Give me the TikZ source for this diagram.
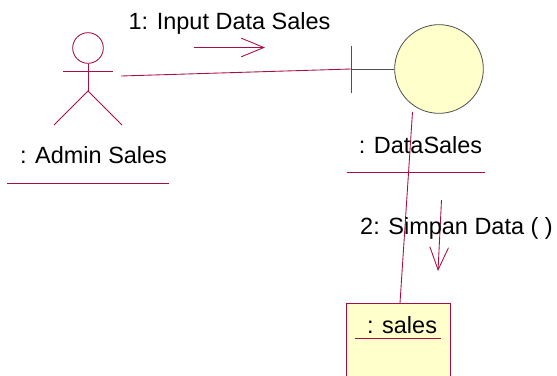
\documentclass[tikz,border=0pt]{standalone}
\usepackage{fontspec}
\setmainfont{Liberation Sans}
\usepackage{xcolor}
\usetikzlibrary{arrows.meta,shapes}
\definecolor{umlline}{HTML}{A50F43}
\definecolor{umlfill}{HTML}{FFFFCB}
\definecolor{umlgrey}{HTML}{505050}
\tikzset{
    umlline/.style={draw=umlline, line width=0.65pt},
    umllabel/.style={font=\fontsize{17.6}{20}\selectfont, text=black, inner sep=0pt, anchor=base},
    umlmsg/.style={umlline, -{Straight Barb[length=17pt, width=14pt, line width=0.65pt]}},
}

\begin{document}
\begin{tikzpicture}[x=0.75pt, y=-0.75pt]
        \useasboundingbox (0,0) rectangle (557,375);
        \clip (0,0) rectangle (557,375);
        % actor
        \node[circle, umlline, minimum size=23pt, inner sep=0pt] (head) at (88,48) {};
        \coordinate (armL) at (63,71);
        \coordinate (armR) at (113,71);
        \coordinate (hip) at (88,91);
        \coordinate (footL) at (54,125);
        \coordinate (footR) at (122,125);
        \draw[umlline] (armL) -- (armR);
        \draw[umlline] (head.south) -- (hip);
        \draw[umlline] (footL) -- (hip) -- (footR);
        \node[umllabel] (admin) at (93.5,163.5) {: Admin Sales};
        \coordinate (adminL) at (7,183.5);
        \coordinate (adminR) at (169,183.5);
        \draw[umlline] (adminL) -- (adminR);
        % boundary
        \node[circle, draw=umlgrey, fill=umlfill, line width=0.6pt, minimum size=66.5pt, inner sep=0pt] (data) at (439,69) {};
        \coordinate (tick) at (351,69);
        \coordinate (tickT) at (351,46);
        \coordinate (tickB) at (351,93);
        \draw[umlgrey, line width=0.6pt] (tickT) -- (tickB);
        \draw[umlgrey, line width=0.6pt] (tick) -- (data.west);
        \node[umllabel] (datalabel) at (420.5,153) {: DataSales};
        \coordinate (dataL) at (347,172);
        \coordinate (dataR) at (485,172);
        \draw[umlline] (dataL) -- (dataR);
        % entity
        \node[rectangle, umlline, fill=umlfill, minimum width=78pt, minimum height=90pt, inner sep=0pt, anchor=north west] (sales) at (345.5,303) {};
        \node[umllabel] (saleslabel) at (402,333) {: sales};
        \coordinate (salesL) at (355,338);
        \coordinate (salesR) at (441,338);
        \draw[umlline] (salesL) -- (salesR);
        % links
        \coordinate (actorEnd) at (121,76);
        \coordinate (dataEnd) at (412.5,112);
        \coordinate (salesEnd) at (400,303);
        \draw[umlline] (actorEnd) -- (tick);
        \draw[umlline] (dataEnd) -- (salesEnd);
        % messages
        \coordinate (msgA) at (194,47.5);
        \coordinate (msgB) at (265,47.5);
        \coordinate (msgC) at (441.5,200);
        \coordinate (msgD) at (438,271);
        \draw[umlmsg] (msgA) -- (msgB);
        \draw[umlmsg] (msgC) -- (msgD);
        \node[umllabel] (msgone) at (229.5,29) {1: Input Data Sales};
        \node[umllabel] (msgtwo) at (456.5,234) {2: Simpan Data ( )};
    \end{tikzpicture}
\end{document}
